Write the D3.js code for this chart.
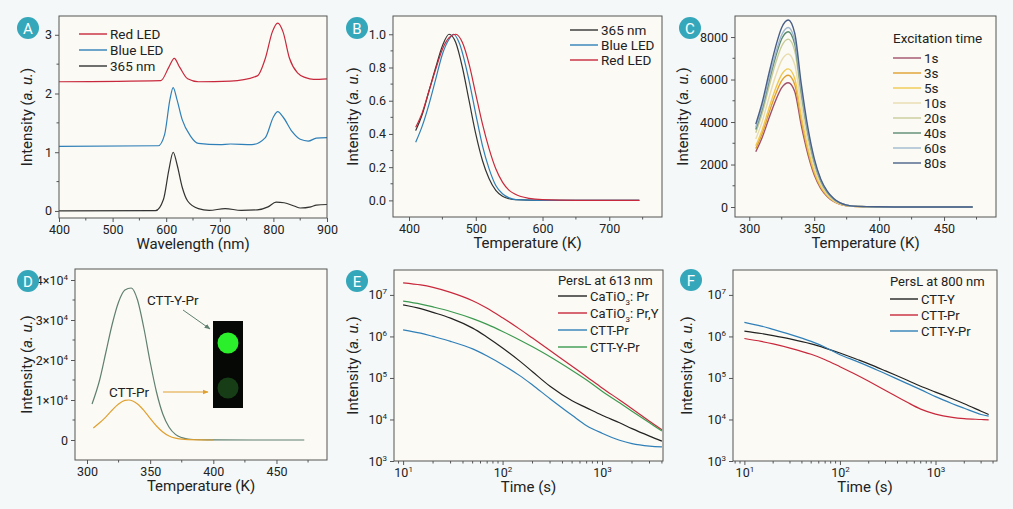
<!DOCTYPE html>
<html><head><meta charset="utf-8">
<script src="https://cdn.jsdelivr.net/npm/d3@7"></script>
<style>
body{margin:0;background:#f4f8f9;font-family:Roboto,"Noto Sans",sans-serif;}
svg text{fill:#222;}
</style></head><body>
<svg id="fig" width="1013" height="509"></svg>
<script>
// ---- data ----
var aX365 = [400,580,595,605,613,620,630,640,660,680,710,740,770,790,805,820,840,850,870,880,900];
var aY365 = [0,0.005,0.2,0.7,1.0,0.8,0.4,0.17,0.04,0.01,0.04,0.01,0.02,0.07,0.15,0.14,0.08,0.05,0.07,0.1,0.11];
var aXBlue = [400,585,597,607,613,620,630,645,660,700,720,760,785,800,808,818,835,850,865,880,900];
var aYBlue = [1.1,1.11,1.3,1.9,2.1,1.9,1.55,1.28,1.15,1.13,1.14,1.13,1.25,1.6,1.69,1.6,1.35,1.22,1.19,1.24,1.25];
var aXRed = [400,590,605,615,625,640,660,720,770,785,798,808,818,830,845,860,875,900];
var aYRed = [2.2,2.22,2.45,2.6,2.45,2.25,2.2,2.21,2.3,2.6,3.05,3.2,3.05,2.6,2.35,2.27,2.24,2.25];

var bX365 = [410,420,430,440,450,460,470,480,490,500,510,520,530,540,550,560,600,745];
var bY365 = [.42,.52,.66,.8,.93,1.0,.95,.8,.6,.4,.24,.13,.06,.025,.01,.004,0,0];
var bXBlue = [410,420,430,440,450,460,467,475,490,500,510,520,530,540,550,560,600,745];
var bYBlue = [.35,.45,.58,.73,.88,.97,1.0,.95,.72,.52,.33,.19,.09,.04,.015,.005,0,0];
var bXRed = [410,420,430,440,450,460,470,480,490,500,510,520,530,540,550,560,580,600,650,745];
var bYRed = [.44,.53,.66,.79,.91,.98,1.0,.95,.82,.64,.46,.31,.19,.11,.06,.035,.012,.004,0,0];

var cTemps = [305,310,315,320,325,330,335,340,345,350,355,360,365,370,375,380,390,400,430,472];
var cNames = ["1s","3s","5s","10s","20s","40s","60s","80s"];
var c1s  = [2600,3280,4150,4970,5620,5850,5440,3860,2520,1520,880,500,260,130,60,30,12,6,0,0];
var c3s  = [2750,3470,4400,5270,5950,6200,5770,4090,2670,1610,930,530,280,140,60,30,12,6,0,0];
var c5s  = [2880,3640,4620,5530,6240,6500,6050,4290,2800,1690,980,550,290,140,65,33,13,7,0,0];
var c10s = [3200,4030,5110,6120,6910,7200,6700,4750,3100,1870,1080,610,320,160,72,36,14,7,0,0];
var c20s = [3500,4420,5610,6720,7580,7900,7350,5210,3400,2050,1190,670,360,170,80,40,16,8,0,0];
var c40s = [3650,4620,5860,7010,7920,8250,7670,5450,3550,2150,1240,700,370,180,83,41,17,8,0,0];
var c60s = [3750,4730,6000,7180,8110,8450,7860,5580,3630,2200,1270,720,380,190,85,42,17,8,0,0];
var c80s = [3900,4930,6250,7480,8450,8800,8180,5810,3780,2290,1320,750,400,190,88,44,18,9,0,0];

var dXYPr = [304,310,315,320,325,330,335,340,345,350,355,360,365,370,375,380,390,400,430,472];
var dYYPr = [9000,15000,22000,29000,34500,37500,38000,35000,28000,19500,12000,6500,3200,1400,600,250,60,10,0,0];
var dXPr = [305,310,315,320,325,330,333,340,345,350,355,360,365,370,375,380,390,400];
var dYPr = [3000,4300,5800,7500,9000,9900,10000,9000,7400,5400,3500,2000,1000,450,200,80,20,0];

// decay curves, stored as log10(intensity)
var eT = [10,15,20,30,50,70,100,150,200,300,500,700,1000,1500,2000,3000,4000];
var ePrLog    = [6.76,6.67,6.58,6.44,6.2,5.98,5.72,5.4,5.15,4.8,4.45,4.28,4.1,3.92,3.78,3.6,3.48];
var ePrYLog   = [7.29,7.24,7.18,7.06,6.86,6.68,6.45,6.17,5.96,5.66,5.28,5.03,4.76,4.47,4.26,3.96,3.75];
var eCTTPrLog = [6.16,6.08,6.0,5.88,5.7,5.53,5.32,5.05,4.83,4.5,4.1,3.85,3.67,3.5,3.42,3.36,3.34];
var eCTTYPrLog= [6.85,6.78,6.71,6.6,6.43,6.29,6.12,5.91,5.75,5.51,5.18,4.95,4.68,4.4,4.2,3.92,3.72];

var fT = [10,15,20,30,50,70,100,150,200,300,500,700,1000,1500,2000,3000,3600];
var fYLog   = [6.13,6.07,6.02,5.94,5.82,5.72,5.6,5.45,5.34,5.17,4.95,4.8,4.66,4.5,4.38,4.2,4.12];
var fPrLog  = [5.95,5.88,5.82,5.72,5.57,5.44,5.27,5.07,4.92,4.7,4.42,4.25,4.13,4.05,4.02,4.0,3.99];
var fYPrLog = [6.34,6.25,6.17,6.05,5.88,5.74,5.56,5.4,5.28,5.1,4.87,4.72,4.55,4.38,4.27,4.12,4.08];

function pw(a){ return a.map(function(v){ return Math.pow(10, v); }); }

// ---- drawing ----
var svg = d3.select("#fig");
var K = "#333", R = "#c8283c", B = "#2f7fb8", G = "#3c9a50";

function sup(sel, base, exp) {
  sel.text(null);
  sel.append("tspan").text(base);
  sel.append("tspan").attr("dy", -5).attr("font-size", 8).text(exp);
}

function panel(p) {
  var g = svg.append("g");
  g.append("rect").attr("x", p.l).attr("y", p.t).attr("width", p.r - p.l).attr("height", p.b - p.t)
    .attr("fill", "#fbfaf4");
  var x = (p.xlog ? d3.scaleLog() : d3.scaleLinear()).domain(p.xd).range([p.l, p.r]);
  var y = (p.ylog ? d3.scaleLog() : d3.scaleLinear()).domain(p.yd).range([p.b, p.t]);
  var line = d3.line().x(function(d){return x(d[0]);}).y(function(d){return y(d[1]);})
    .curve(p.xlog ? d3.curveCatmullRom.alpha(0.5) : d3.curveMonotoneX);
  p.series.forEach(function(s) {
    g.append("path").datum(d3.zip(s.x, s.y)).attr("d", line)
      .attr("fill", "none").attr("stroke", s.c).attr("stroke-width", s.w || 1.2);
  });
  var xa = d3.axisBottom(x).tickSizeOuter(0).tickSize(4);
  var ya = d3.axisLeft(y).tickSizeOuter(0).tickSize(4);
  if (p.xlog) xa.tickValues(p.xticks).tickFormat(function(){return "";});
  else xa.tickValues(p.xticks);
  if (p.ylog) ya.tickValues(p.yticks).tickFormat(function(){return "";});
  else ya.tickValues(p.yticks).tickFormat(p.yfmt || d3.format("d"));
  var gx = g.append("g").attr("transform", "translate(0," + p.b + ")").call(xa);
  var gy = g.append("g").attr("transform", "translate(" + p.l + ",0)").call(ya);
  [gx, gy].forEach(function(a){
    a.selectAll("text").attr("font-size", 12.5).attr("font-family", "Roboto").style("fill", "#222");
    a.selectAll("line").attr("stroke", "#555");
    a.select(".domain").remove();
  });
  // minor ticks
  if (p.xminor) gx.selectAll(".mn").data(p.xminor).enter().append("line")
    .attr("x1", function(d){return x(d);}).attr("x2", function(d){return x(d);}).attr("y1", 0).attr("y2", 2.5).attr("stroke", "#555");
  if (p.yminor) gy.selectAll(".mn").data(p.yminor).enter().append("line")
    .attr("y1", function(d){return y(d);}).attr("y2", function(d){return y(d);}).attr("x1", 0).attr("x2", -2.5).attr("stroke", "#555");
  if (p.xlog) gx.selectAll(".tick text").each(function(d){ sup(d3.select(this), "10", Math.round(Math.log10(d))); });
  if (p.ylog) gy.selectAll(".tick text").each(function(d){ sup(d3.select(this), "10", Math.round(Math.log10(d))); });
  if (p.ysup) gy.selectAll(".tick text").each(function(d){ if (d) sup(d3.select(this), (d/1e4) + "\u00d710", 4); });
  g.append("rect").attr("x", p.l).attr("y", p.t).attr("width", p.r - p.l).attr("height", p.b - p.t)
    .attr("fill", "none").attr("stroke", "#555").attr("stroke-width", 1);
  g.append("text").attr("x", (p.l + p.r) / 2).attr("y", p.b + 31).attr("text-anchor", "middle")
    .attr("font-size", 15).text(p.xt);
  g.append("text").attr("transform", "translate(" + p.yx + "," + (p.t + p.b) / 2 + ") rotate(-90)")
    .attr("text-anchor", "middle").attr("font-size", 15).html('Intensity (<tspan font-style="italic">a. u.</tspan>)');
  g.append("circle").attr("cx", p.lab[0]).attr("cy", p.lab[1]).attr("r", 11).attr("fill", "#35a7ba");
  g.append("text").attr("x", p.lab[0]).attr("y", p.lab[1] + 5.5).attr("text-anchor", "middle")
    .attr("font-size", 15).style("fill", "#fff").text(p.name);
  // legend
  var lg = p.legend;
  var fs = lg.fs || 13.5;
  if (lg.title) g.append("text").attr("x", lg.x).attr("y", lg.ty + 5).attr("font-size", fs).text(lg.title);
  lg.items.forEach(function(it, i) {
    var yy = lg.y + i * lg.dy;
    g.append("line").attr("x1", lg.x).attr("x2", lg.x + lg.len).attr("y1", yy).attr("y2", yy)
      .attr("stroke", it.c).attr("stroke-width", 1.4);
    var t = g.append("text").attr("x", lg.x + lg.len + 3).attr("y", yy + 5).attr("font-size", fs);
    if (it.sub) {
      t.append("tspan").text("CaTiO");
      t.append("tspan").attr("dy", 4).attr("font-size", 8).text("3");
      t.append("tspan").attr("dy", -4).text(it.sub);
    } else t.text(it.n);
  });
  return {g: g, x: x, y: y};
}

function logMinor(lo, hi, a, b) {
  var out = [];
  for (var e = lo; e <= hi; e++) for (var m = 2; m <= 9; m++) out.push(m * Math.pow(10, e));
  return out.filter(function(v){ return v > a && v < b; });
}

panel({name: "A", lab: [28, 28], l: 59, r: 327, t: 16, b: 218, xd: [400, 900], yd: [-0.12, 3.32],
  xticks: [400,500,600,700,800,900], xminor: [450,550,650,750,850], yticks: [0,1,2,3], yminor: [0.5,1.5,2.5],
  xt: "Wavelength (nm)", yx: 32,
  series: [{x: aXRed, y: aYRed, c: R}, {x: aXBlue, y: aYBlue, c: B}, {x: aX365, y: aY365, c: K}],
  legend: {x: 79, y: 34, dy: 16, len: 28, items: [{n: "Red LED", c: R}, {n: "Blue LED", c: B}, {n: "365 nm", c: K}]}});

panel({name: "B", lab: [357, 28], l: 393, r: 662, t: 16, b: 217, xd: [376, 779], yd: [-0.10, 1.11],
  xticks: [400,500,600,700], xminor: [450,550,650,750], yticks: [0,.2,.4,.6,.8,1], yminor: [.1,.3,.5,.7,.9],
  yfmt: d3.format(".1f"), xt: "Temperature (K)", yx: 358,
  series: [{x: bX365, y: bY365, c: K}, {x: bXBlue, y: bYBlue, c: B}, {x: bXRed, y: bYRed, c: R}],
  legend: {x: 570, y: 30, dy: 15, len: 28, items: [{n: "365 nm", c: K}, {n: "Blue LED", c: B}, {n: "Red LED", c: R}]}});

var cCols = ["#a0506a","#e0a030","#f0c850","#e8dcb0","#c8cc98","#5a8a70","#a0b8d0","#4a5f88"];
var cVals = [c1s,c3s,c5s,c10s,c20s,c40s,c60s,c80s];
panel({name: "C", lab: [690, 28], l: 735, r: 996, t: 16, b: 217, xd: [289, 490], yd: [-470, 8990],
  xticks: [300,350,400,450], xminor: [325,375,425,475], yticks: [0,2000,4000,6000,8000], yminor: [1000,3000,5000,7000],
  xt: "Temperature (K)", yx: 688,
  series: cVals.map(function(v, i){ return {x: cTemps, y: v, c: cCols[i], w: 1.4}; }),
  legend: {x: 893, ty: 38, title: "Excitation time", y: 58, dy: 15, len: 28,
    items: cNames.map(function(n, i){ return {n: n, c: cCols[i]}; })}});

var D = panel({name: "D", lab: [28, 281], l: 75, r: 327, t: 269, b: 460, xd: [290.5, 490], yd: [-5000, 42750],
  xticks: [300,350,400,450], xminor: [325,375,425,475], yticks: [0,1e4,2e4,3e4,4e4], yminor: [5e3,1.5e4,2.5e4,3.5e4],
  ysup: true, xt: "Temperature (K)", yx: 32,
  series: [{x: dXYPr, y: dYYPr, c: "#5f7f70"}, {x: dXPr, y: dYPr, c: "#e0a030"}],
  legend: {x: 0, y: 0, dy: 0, len: 0, items: []}});
// inset photo
D.g.append("rect").attr("x", 213).attr("y", 321).attr("width", 30).attr("height", 87).attr("fill", "#050805");
D.g.append("circle").attr("cx", 228).attr("cy", 343).attr("r", 10.5).attr("fill", "#2bef2b");
D.g.append("circle").attr("cx", 228).attr("cy", 388).attr("r", 10.5).attr("fill", "#173d17");
D.g.append("text").attr("x", 147).attr("y", 305).attr("font-size", 13.5).text("CTT-Y-Pr");
D.g.append("text").attr("x", 109).attr("y", 397).attr("font-size", 13.5).text("CTT-Pr");
var defs = svg.append("defs");
[["ag", "#5f7f70"], ["ao", "#e0a030"]].forEach(function(a){
  defs.append("marker").attr("id", a[0]).attr("viewBox", "0 0 10 10").attr("refX", 9).attr("refY", 5)
    .attr("markerWidth", 6).attr("markerHeight", 6).attr("orient", "auto")
    .append("path").attr("d", "M0,1L10,5L0,9z").attr("fill", a[1]);
});
D.g.append("line").attr("x1", 183).attr("y1", 310).attr("x2", 210).attr("y2", 329).attr("stroke", "#5f7f70").attr("marker-end", "url(#ag)");
D.g.append("line").attr("x1", 163).attr("y1", 392).attr("x2", 208).attr("y2", 392).attr("stroke", "#e0a030").attr("marker-end", "url(#ao)");

panel({name: "E", lab: [357, 281], l: 394, r: 663, t: 270, b: 461, xlog: true, ylog: true,
  xd: [8.1, 4100], yd: [1e3, Math.pow(10, 7.6)],
  xticks: [10, 100, 1000], xminor: logMinor(0, 3, 8.1, 4100),
  yticks: [1e3,1e4,1e5,1e6,1e7], xt: "Time (s)", yx: 358,
  series: [{x: eT, y: pw(ePrLog), c: "#222"}, {x: eT, y: pw(ePrYLog), c: R}, {x: eT, y: pw(eCTTPrLog), c: B}, {x: eT, y: pw(eCTTYPrLog), c: G}],
  legend: {x: 558, ty: 280, title: "PersL at 613 nm", y: 296, dy: 17, len: 29, fs: 13,
    items: [{sub: ": Pr", c: "#222"}, {sub: ": Pr,Y", c: R}, {n: "CTT-Pr", c: B}, {n: "CTT-Y-Pr", c: G}]}});

panel({name: "F", lab: [691, 280], l: 733, r: 997, t: 270, b: 461, xlog: true, ylog: true,
  xd: [7.6, 4400], yd: [1e3, Math.pow(10, 7.6)],
  xticks: [10, 100, 1000], xminor: logMinor(0, 3, 7.6, 4400),
  yticks: [1e3,1e4,1e5,1e6,1e7], xt: "Time (s)", yx: 692,
  series: [{x: fT, y: pw(fYLog), c: "#222"}, {x: fT, y: pw(fPrLog), c: R}, {x: fT, y: pw(fYPrLog), c: B}],
  legend: {x: 890, ty: 281, title: "PersL at 800 nm", y: 299, dy: 16, len: 28, fs: 13,
    items: [{n: "CTT-Y", c: "#222"}, {n: "CTT-Pr", c: R}, {n: "CTT-Y-Pr", c: B}]}});
</script>
</body></html>
